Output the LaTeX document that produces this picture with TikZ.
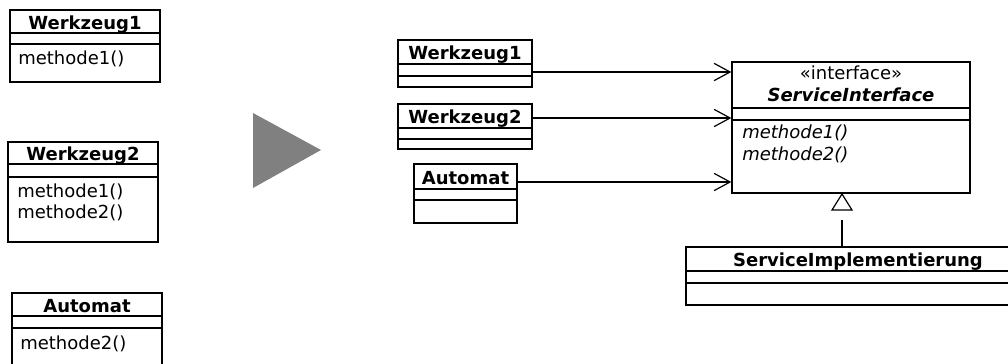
\documentclass[tikz,border=0pt]{standalone}
\usepackage{fontspec}
\setmainfont{DejaVu Sans}[Scale=1.35]
\usetikzlibrary{arrows.meta,fit}

\tikzset{
  classbox/.style={draw, line width=1pt, inner sep=0pt, fill=white},
  classline/.style={line width=1pt},
  classname/.style={font=\bfseries, anchor=base, inner sep=0pt},
  member/.style={anchor=base west, inner sep=0pt},
  opmember/.style={member, font=\itshape},
  assoc/.style={line width=0.9pt, -{Straight Barb[length=12pt, width=13pt]}},
  realize/.style={line width=0.9pt},
  gentip/.style={line width=0.9pt, fill=white},
  bigarrow/.style={fill=gray, draw=none},
}

% class box: name, x1, y1, x2, y2, first divider, second divider, title
\newcommand\umlclass[8]{%
  \node[classbox, fit={(#2,#3) (#4,#5)}] (#1) {};
  \draw[classline] (#2,#6) -- (#4,#6);
  \draw[classline] (#2,#7) -- (#4,#7);
  \node[classname] (#1-name) at ({(#2+#4)/2},{(#3+#6)/2+7.5}) {#8};
}

\begin{document}
\begin{tikzpicture}[x=0.75pt, y=-0.75pt]
  \useasboundingbox (0,0) rectangle (1008,364);
  \clip (0,0) rectangle (1008,364);

  % classes before the refactoring
  \umlclass{lw1}{10}{10}{160}{82}{33}{44}{Werkzeug1}
  \node[member] (lw1-m1) at (18,64) {methode1()};

  \umlclass{lw2}{8}{142}{158}{242}{164}{177}{Werkzeug2}
  \node[member] (lw2-m1) at (17,197) {methode1()};
  \node[member] (lw2-m2) at (17,218) {methode2()};

  \umlclass{la}{12}{293}{162}{390}{316}{328}{Automat}
  \node[member] (la-m2) at (20,349) {methode2()};

  % transition marker
  \path[bigarrow] (253,113) -- (321,150) -- (253,188) -- cycle;

  % clients after the refactoring
  \umlclass{rw1}{398}{40}{532}{87}{64}{76}{Werkzeug1}
  \umlclass{rw2}{398}{104}{532}{149}{128}{139}{Werkzeug2}
  \umlclass{ra}{414}{164}{517}{223}{189}{200}{Automat}

  % the service interface
  \node[classbox, fit={(732,62) (970,193)}] (iface) {};
  \draw[classline] (732,108) -- (970,108);
  \draw[classline] (732,120) -- (970,120);
  \node[anchor=base, inner sep=0pt] (iface-st) at (851,79) {«interface»};
  \node[classname, font=\bfseries\itshape] (iface-name) at (851,101) {ServiceInterface};
  \node[opmember] (iface-m1) at (742,138) {methode1()};
  \node[opmember] (iface-m2) at (742,160) {methode2()};

  % implementation
  \umlclass{impl}{686}{247}{1030}{305}{271}{283}{ServiceImplementierung}

  % dependencies on the interface
  \coordinate (p1) at (732,72);
  \coordinate (p2) at (732,118);
  \coordinate (p3) at (732,182);
  \draw[assoc] (rw1.east |- p1) -- (iface.west |- p1);
  \draw[assoc] (rw2.east |- p2) -- (iface.west |- p2);
  \draw[assoc] (ra.east |- p3) -- (iface.west |- p3);

  % realization
  \coordinate (genapex) at (842,194);
  \coordinate (genfoot) at (842,220);
  \draw[realize] (impl.north -| genfoot) -- (genfoot);
  \draw[gentip] (genapex) -- ++(10,16) -- ++(-20,0) -- cycle;
\end{tikzpicture}
\end{document}
